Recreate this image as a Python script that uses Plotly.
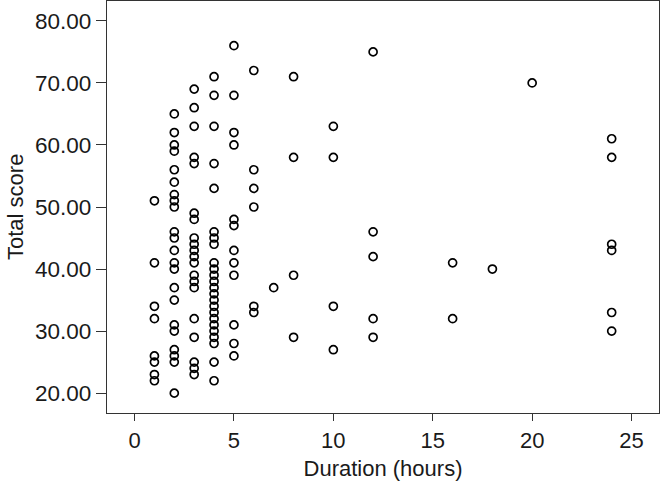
import plotly.graph_objects as go

# Duration groups (hours) and the total scores read for each
durations = [1, 2, 3, 4, 5, 6, 7, 8, 10, 12, 16, 18, 20, 24]
scores_1h = [51, 41, 34, 32, 26, 25, 23, 22]
scores_2h = [65, 62, 60, 59, 56, 54, 52, 51, 50, 46, 45, 43, 41, 40, 37, 35, 31, 30, 27, 26, 25, 20]
scores_3h = [69, 66, 63, 58, 57, 49, 48, 45, 44, 43, 42, 41, 39, 38, 37, 32, 29, 25, 24, 23]
scores_4h = [71, 68, 63, 57, 53, 46, 45, 44, 41, 40, 39, 38, 37, 36, 35, 34, 33, 32, 31, 30, 29, 28, 25, 22]
scores_5h = [76, 68, 62, 60, 48, 47, 43, 41, 39, 31, 28, 26]
scores_6h = [72, 56, 53, 50, 34, 33]
scores_7h = [37]
scores_8h = [71, 58, 39, 29]
scores_10h = [63, 58, 34, 27]
scores_12h = [75, 46, 42, 32, 29]
scores_16h = [41, 32]
scores_18h = [40]
scores_20h = [70]
scores_24h = [61, 58, 44, 43, 33, 30]

score_groups = [scores_1h, scores_2h, scores_3h, scores_4h, scores_5h, scores_6h, scores_7h,
                scores_8h, scores_10h, scores_12h, scores_16h, scores_18h, scores_20h, scores_24h]

x_tick_values = [0, 5, 10, 15, 20, 25]
y_tick_values = [20, 30, 40, 50, 60, 70, 80]
y_tick_labels = ["20.00", "30.00", "40.00", "50.00", "60.00", "70.00", "80.00"]

x_vals, y_vals = [], []
for d, group in zip(durations, score_groups):
    for s in group:
        x_vals.append(d)
        y_vals.append(s)

axis_color = "#333333"
font_family = "Liberation Sans, Arial, Helvetica, sans-serif"

fig = go.Figure()
fig.add_trace(go.Scatter(
    x=x_vals, y=y_vals, mode="markers",
    marker=dict(symbol="circle-open", size=8, color="black", line=dict(width=1.7, color="black")),
    hoverinfo="x+y",
))

fig.update_layout(
    width=660, height=481,
    margin=dict(l=107, r=1, t=1, b=68),
    plot_bgcolor="white", paper_bgcolor="white",
    showlegend=False,
    font=dict(family=font_family, size=22, color="#1a1a1a"),
    annotations=[dict(
        text="Total score", textangle=-90, showarrow=False,
        xref="paper", yref="paper", x=0, y=0.5,
        xanchor="center", yanchor="middle", xshift=-92,
        font=dict(size=22, color="#1a1a1a"),
    )],
)
fig.update_xaxes(
    range=[-1.385, 26.38], tickvals=x_tick_values,
    ticks="outside", ticklen=7, tickwidth=1.3, tickcolor=axis_color,
    showline=True, linecolor=axis_color, linewidth=1.3, mirror=True,
    showgrid=False, zeroline=False,
    tickfont=dict(size=22),
    title=dict(text="Duration (hours)", font=dict(size=22), standoff=10),
    automargin=False,
)
fig.update_yaxes(
    range=[16.8, 83.2], tickvals=y_tick_values, ticktext=y_tick_labels,
    ticks="outside", ticklen=10, tickwidth=1.3, tickcolor=axis_color,
    showline=True, linecolor=axis_color, linewidth=1.3, mirror=True,
    showgrid=False, zeroline=False,
    tickfont=dict(size=22.5),
    automargin=False,
)

fig.write_html("out.html", config={"displayModeBar": False},
               post_script="document.body.style.margin='0px';")
